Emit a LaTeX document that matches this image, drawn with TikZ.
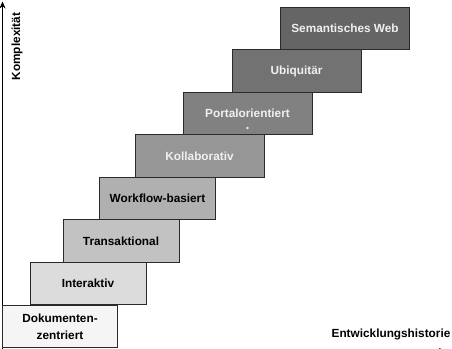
\documentclass[tikz,border=0pt]{standalone}
\usepackage{fontspec}
\setmainfont{Liberation Sans}
\usepackage{tikz}
\usetikzlibrary{arrows.meta,positioning}
\definecolor{cStep1}{HTML}{F5F5F5}
\definecolor{cStep2}{HTML}{DCDCDC}
\definecolor{cStep3}{HTML}{C2C2C2}
\definecolor{cStep4}{HTML}{B0B0B0}
\definecolor{cStep5}{HTML}{969696}
\definecolor{cStep6}{HTML}{818181}
\definecolor{cStep7}{HTML}{727272}
\definecolor{cStep8}{HTML}{656565}
\definecolor{cEdge}{HTML}{2A2A2A}
\tikzset{
  stufe/.style   = {rectangle, draw=cEdge, fill=#1, line width=0.9pt,
                    minimum height=42.5pt, inner sep=2pt, align=center,
                    font=\fontsize{11.8pt}{17pt}\selectfont\bfseries},
  stufe/.default = cStep1,
  hell/.style    = {text=black, minimum width=116pt},
  dunkel/.style  = {text=white!94!black, minimum width=129pt},
  achse/.style   = {-{Stealth[length=7pt,width=6pt]}, draw=black, line width=0.8pt},
  atxt/.style    = {font=\fontsize{11.8pt}{14pt}\selectfont\bfseries},
}
\begin{document}
\begin{tikzpicture}[x=1pt, y=-1pt]
  \useasboundingbox (0,0) rectangle (452,348);

  % Achsen
  \coordinate (o) at (2.5,351);
  \coordinate (ytop) at (2.5,1.5);
  \coordinate (xend) at (446,351);
  \draw[achse] (o) -- (ytop);
  \draw[achse] (o) -- (xend);
  \node[atxt, rotate=90] (kompl) at (17,46.5) {Komplexität};
  \node[atxt] (hist) at (391,334) {Entwicklungshistorie};

  % Treppe
  \node[stufe=cStep8, dunkel] (sem) at (345,28.5) {Semantisches Web};
  \node[stufe=cStep7, dunkel] (ubi) at (296.5,71) {Ubiquitär};
  \node[stufe=cStep6, dunkel] (por) at (247.5,113.5) {Portalorientiert};
  \node[stufe=cStep5, dunkel] (kol) at (199.5,156) {Kollaborativ};
  \node[stufe=cStep4, hell] (wfl) at (157.5,198.5) {Workflow-basiert};
  \node[stufe=cStep3, hell] (tra) at (121,241) {Transaktional};
  \node[stufe=cStep2, hell] (int) at (88,283.5) {Interaktiv};
  \node[stufe=cStep1, hell, minimum width=115pt] (dok) at (60,326.5) {Dokumenten-\\zentriert};

  \fill[white!92!black] ([yshift=-14.5pt]por.center) circle (1.4pt);
\end{tikzpicture}
\end{document}
